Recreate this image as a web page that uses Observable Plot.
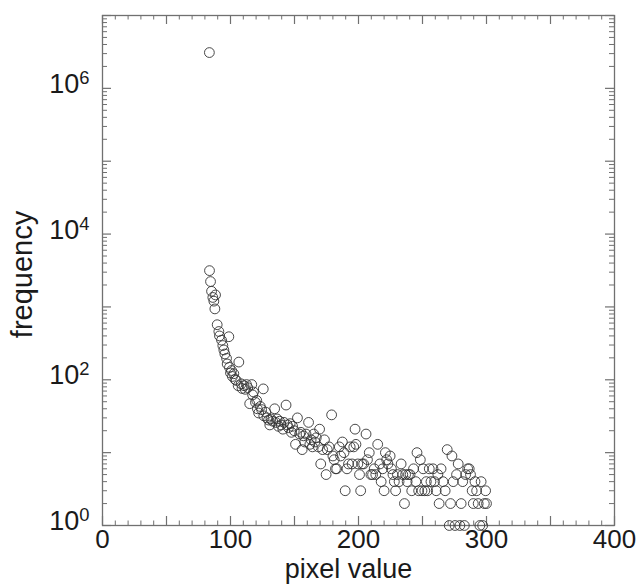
<!DOCTYPE html>
<html><head><meta charset="utf-8">
<script src="https://cdn.jsdelivr.net/npm/d3@7"></script>
<script src="https://cdn.jsdelivr.net/npm/@observablehq/plot@0.6"></script>
<style>html,body{margin:0;padding:0;background:#fff}svg{display:block}</style>
</head><body><div id="chart"></div>
<script>
// pixel value (x) and frequency (y)
const pixelValue = [83.5,83.6,84.4,85.2,86.2,87.0,87.8,88.3,89.6,90.9,91.4,93.0,94.0,94.8,95.6,96.9,97.4,98.7,99.2,100.0,
100.8,101.5,102.6,103.6,104.5,106.0,106.5,108.4,109.0,110.6,111.5,112.5,113.5,115.0,116.6,117.3,118.0,119.5,120.5,121.0,
122.0,123.3,124.3,125.6,126.0,127.5,128.5,129.7,130.7,131.6,133.0,134.5,135.5,136.4,137.4,138.3,139.6,140.9,141.8,143.4,
144.4,145.3,146.6,147.6,148.5,149.8,150.8,152.3,154.0,155.0,156.0,157.0,158.0,159.0,161.0,162.0,163.0,164.0,165.0,166.0,
167.0,168.6,169.6,170.5,172.0,173.4,174.7,175.6,177.0,179.0,180.0,181.0,182.0,183.0,185.0,186.0,187.4,188.7,189.6,191.0,
192.2,193.5,195.0,196.3,197.3,198.0,199.5,200.8,201.7,202.7,204.0,205.9,207.0,208.4,209.7,211.0,212.3,213.5,215.0,216.7,
217.7,218.9,220.0,221.0,222.0,223.0,224.7,225.7,226.9,228.0,229.0,230.4,231.7,233.3,234.6,235.9,236.8,238.0,239.0,240.3,
241.6,243.0,244.8,245.7,247.0,248.3,249.6,250.5,251.8,253.0,254.0,255.3,256.6,258.2,259.4,260.7,262.0,263.0,264.5,266.0,
267.7,269.3,270.9,271.9,273.0,274.0,275.4,276.6,277.9,279.2,280.2,281.4,282.7,283.7,285.3,286.5,287.5,288.8,289.7,291.0,
292.3,293.5,294.8,295.8,297.0,298.3,299.3,300.0];
const frequency = [3100000,3150,2230,1640,1350,1200,940,1460,570,460,400,350,295,257,226,197,165,390,148,124,
134,111,121,101,98,83,175,88,76,83,74,86,78,47,86,62,68,49,52,40,
35,43,39,75,32,36,30,28,24,29,27,40,26,29,23,27,24,21,26,45,
24,22,25,19,23,20,13,30,18,19,11,17,14,18,26,13,15,12,18,14,
16,12,21,7,11,15,5,11,12,33,9,8,6,6,12,9,14,10,3,6,
7,12,7,12,21,13,7,5,3,7,7,18,8,10,5,5,6,5,13,7,
4,6,3,10,8,7,9,6,5,4,3,5,4,7,5,2,5,4,5,5,
3,6,4,10,3,8,3,6,3,4,3,6,4,6,4,3,5,2,6,4,
3,11,1,2,9,4,1,5,7,1,2,4,1,5,6,6,5,3,2,4,
3,2,1,4,1,2,3,2];
const xTickLabels = [0, 100, 200, 300, 400];
const yTickLabels = [1, 1e2, 1e4, 1e6];
const xDomain = [0, 400];
const yDomain = [1, 1e7];

const xMajor = d3.range(0, 401, 50);
const xMinor = d3.range(0, 401, 10).filter(v => v % 50 !== 0);
const decades = d3.range(0, 8).map(k => Math.pow(10, k));
const yMinor = d3.range(0, 7).flatMap(k => d3.range(2, 10).map(m => m * Math.pow(10, k)));

const W = 639, H = 584, mL = 102, mR = 25, mT = 15, mB = 59;
const iw = W - mL - mR, ih = H - mT - mB;
const axisColor = "#707070";
const data = pixelValue.map((x, i) => ({x, y: frequency[i]}));
const font = "'Liberation Sans', Arial, Helvetica, sans-serif";

const chart = Plot.plot({
  width: W, height: H,
  marginLeft: mL, marginRight: mR, marginTop: mT, marginBottom: mB,
  style: {fontFamily: font, fontSize: "27px", color: "#1a1a1a", background: "#fff"},
  x: {domain: xDomain},
  y: {type: "log", domain: yDomain},
  marks: [
    Plot.frame({stroke: axisColor, strokeWidth: 1.3}),
    Plot.tickX(xMinor, {x: d => d, insetTop: ih - 4.5, stroke: axisColor, strokeWidth: 1}),
    Plot.tickX(xMinor, {x: d => d, insetBottom: ih - 4.5, stroke: axisColor, strokeWidth: 1}),
    Plot.tickX(xMajor, {x: d => d, insetTop: ih - 9, stroke: axisColor, strokeWidth: 1.2}),
    Plot.tickX(xMajor, {x: d => d, insetBottom: ih - 9, stroke: axisColor, strokeWidth: 1.2}),
    Plot.tickY(yMinor, {y: d => d, insetRight: iw - 5, stroke: axisColor, strokeWidth: 1}),
    Plot.tickY(yMinor, {y: d => d, insetLeft: iw - 5, stroke: axisColor, strokeWidth: 1}),
    Plot.tickY(decades, {y: d => d, insetRight: iw - 9, stroke: axisColor, strokeWidth: 1.2}),
    Plot.tickY(decades, {y: d => d, insetLeft: iw - 9, stroke: axisColor, strokeWidth: 1.2}),
    Plot.axisX({ticks: xTickLabels, tickSize: 0, tickPadding: 4, label: null, fontSize: 26, tickFormat: d => String(d)}),
    Plot.axisY({ticks: yTickLabels, tickSize: 0, tickPadding: 13, label: null, fontSize: 27, dy: -4,
      tickFormat: d => String(Math.round(Math.log10(d)))}),
    Plot.dot(data, {x: "x", y: "y", r: 4.9, stroke: "#333", strokeWidth: 0.9, fill: "none"}),
    Plot.text(["pixel value"], {text: d => d, frameAnchor: "bottom", textAnchor: "middle", lineAnchor: "middle",
      dx: -10, dy: 44.3, fontSize: 27, fill: "#1a1a1a"}),
    Plot.text(["frequency"], {text: d => d, frameAnchor: "left", textAnchor: "middle", lineAnchor: "middle",
      rotate: -90, dx: -80, dy: 4, fontSize: 29, fill: "#1a1a1a"})
  ]
});

d3.select(chart).selectAll('g[aria-label="y-axis tick label"] text').each(function () {
  const e = this.textContent;
  const t = d3.select(this);
  t.text(null);
  t.append("tspan").text("10");
  t.append("tspan").attr("dy", "-0.5em").attr("font-size", "0.68em").text(e);
});

document.getElementById("chart").appendChild(chart);
</script>
</body></html>
